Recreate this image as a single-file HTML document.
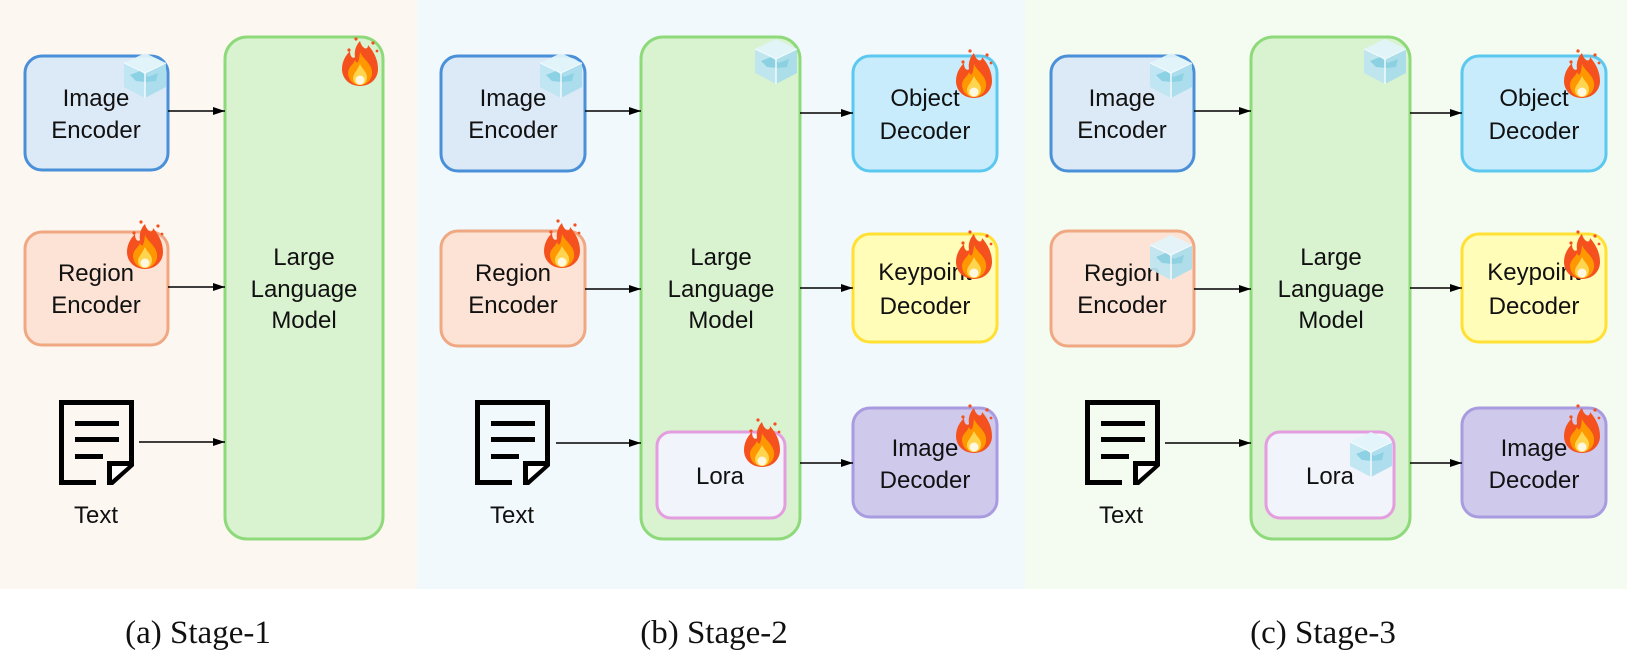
<!DOCTYPE html>
<html><head><meta charset="utf-8"><style>
html,body{margin:0;padding:0;background:#fff;width:1627px;height:665px;overflow:hidden}
svg{display:block}
.t{font-family:"Liberation Sans",sans-serif;font-size:24px;fill:#111;text-anchor:middle}
.c{font-family:"Liberation Serif",serif;font-size:33px;fill:#111;text-anchor:middle}
</style></head><body>
<svg width="1627" height="665" viewBox="0 0 1627 665" xmlns="http://www.w3.org/2000/svg">
<defs>
<marker id="ar" markerWidth="12" markerHeight="8" refX="12" refY="4" orient="auto" markerUnits="userSpaceOnUse">
<path d="M0 0 L12 4 L0 8 Z" fill="#000"/></marker>
<g id="fire">
<circle cx="9" cy="13" r="1.6" fill="#f4511e"/><circle cx="33" cy="6" r="1.6" fill="#f4511e"/><circle cx="16" cy="2" r="1.6" fill="#f4511e"/><circle cx="37" cy="14" r="1.4" fill="#f4511e"/>
<path d="M20 4 C22 12 28 14 28 8 C35 16 38 24 38 32 C38 42 30 49 20 49 C10 49 2 42 2 32 C2 24 6 18 10 14 C10 20 13 22 15 20 C14 14 16 8 20 4Z" fill="#f4511e"/>
<path d="M20 15 C23 22 31 26 32 34 C33 42 27 48 20 48 C13 48 8 43 8 35 C9 29 14 27 15 23 C17 28 19 26 20 15Z" fill="#ff9800"/>
<path d="M20 27 C22 32 27 35 27 40 C27 45 24 48 20 48 C16 48 13 45 13 41 C13 37 17 34 20 27Z" fill="#ffd54f"/>
<circle cx="20" cy="43" r="4.5" fill="#fff8e1"/>
</g>
<g id="ice" opacity="0.92">
<polygon points="23,2 44,12 23,22 2,12" fill="#e2f5fb"/>
<polygon points="2,12 23,22 23,47 2,36" fill="#bde6f2"/>
<polygon points="23,22 44,12 44,36 23,47" fill="#a9ddec"/>
<path d="M8 24 L18 20 L26 26 L36 22 L34 30 L24 31 L14 30 Z" fill="#86cfe3"/>
<line x1="23" y1="22" x2="23" y2="47" stroke="#f4fcff" stroke-width="1.5"/>
<line x1="23" y1="22" x2="2" y2="12" stroke="#f4fcff" stroke-width="1"/>
<line x1="23" y1="22" x2="44" y2="12" stroke="#f4fcff" stroke-width="1"/>
</g>
<g id="doc">
<path d="M37 82.5 H2.5 V2.5 H72.5 V64" fill="none" stroke="#000" stroke-width="5"/>
<polygon points="48,61 75,61 75,66 54,85 48,85" fill="#000"/>
<polygon points="53,66 69,66 53,80" fill="#fff"/>
<rect x="16" y="21" width="44" height="5" fill="#000"/>
<rect x="16" y="37" width="44" height="5" fill="#000"/>
<rect x="16" y="54" width="28" height="5" fill="#000"/>
</g>
</defs>

<rect x="0" y="0" width="417" height="589" fill="#fdf7f2"/>
<rect x="417" y="0" width="608" height="589" fill="#f1f9fd"/>
<rect x="1025" y="0" width="602" height="589" fill="#f4fbf1"/>

<!-- Stage 1 -->
<rect x="25" y="56" width="143" height="114" rx="17" fill="#dce9f7" stroke="#4a90d9" stroke-width="3"/>
<text class="t" x="96" y="106">Image</text><text class="t" x="96" y="138">Encoder</text>
<rect x="25" y="232" width="143" height="113" rx="17" fill="#fde3d6" stroke="#f0a882" stroke-width="3"/>
<text class="t" x="96" y="281">Region</text><text class="t" x="96" y="313">Encoder</text>
<rect x="225" y="37" width="158" height="502" rx="22" fill="#d9f2d0" stroke="#8ed97a" stroke-width="3"/>
<text class="t" x="304" y="265">Large</text><text class="t" x="304" y="297">Language</text><text class="t" x="304" y="328">Model</text>
<use href="#doc" x="59" y="400"/>
<text class="t" x="96" y="523">Text</text>
<line x1="168" y1="111" x2="225" y2="111" stroke="#000" stroke-width="1.6" marker-end="url(#ar)"/>
<line x1="168" y1="287" x2="225" y2="287" stroke="#000" stroke-width="1.6" marker-end="url(#ar)"/>
<line x1="139" y1="442" x2="225" y2="442" stroke="#000" stroke-width="1.6" marker-end="url(#ar)"/>
<use href="#ice" x="122" y="51"/>
<use href="#fire" x="125" y="220"/>
<use href="#fire" x="340" y="37"/>
<text class="c" x="198" y="643">(a) Stage-1</text>

<!-- Stage 2 -->
<rect x="441" y="56" width="144" height="115" rx="17" fill="#dce9f7" stroke="#4a90d9" stroke-width="3"/>
<text class="t" x="513" y="106">Image</text><text class="t" x="513" y="138">Encoder</text>
<rect x="441" y="231" width="144" height="115" rx="17" fill="#fde3d6" stroke="#f0a882" stroke-width="3"/>
<text class="t" x="513" y="281">Region</text><text class="t" x="513" y="313">Encoder</text>
<rect x="641" y="37" width="159" height="502" rx="22" fill="#d9f2d0" stroke="#8ed97a" stroke-width="3"/>
<text class="t" x="721" y="265">Large</text><text class="t" x="721" y="297">Language</text><text class="t" x="721" y="328">Model</text>
<rect x="657" y="432" width="128" height="86" rx="14" fill="#f1f4fb" stroke="#e49ee0" stroke-width="3"/>
<text class="t" x="720" y="484">Lora</text>
<rect x="853" y="56" width="144" height="115" rx="17" fill="#c8ecfb" stroke="#5bc8f0" stroke-width="3"/>
<text class="t" x="925" y="106">Object</text><text class="t" x="925" y="139">Decoder</text>
<rect x="853" y="234" width="144" height="108" rx="17" fill="#fffdb8" stroke="#ffe033" stroke-width="3"/>
<text class="t" x="925" y="280">Keypoint</text><text class="t" x="925" y="314">Decoder</text>
<rect x="853" y="408" width="144" height="109" rx="17" fill="#cfc9ec" stroke="#a99be0" stroke-width="3"/>
<text class="t" x="925" y="456">Image</text><text class="t" x="925" y="488">Decoder</text>
<use href="#doc" x="475" y="400"/>
<text class="t" x="512" y="523">Text</text>
<line x1="585" y1="111" x2="641" y2="111" stroke="#000" stroke-width="1.6" marker-end="url(#ar)"/>
<line x1="585" y1="289" x2="641" y2="289" stroke="#000" stroke-width="1.6" marker-end="url(#ar)"/>
<line x1="556" y1="443" x2="641" y2="443" stroke="#000" stroke-width="1.6" marker-end="url(#ar)"/>
<line x1="800" y1="113" x2="853" y2="113" stroke="#000" stroke-width="1.6" marker-end="url(#ar)"/>
<line x1="800" y1="288" x2="853" y2="288" stroke="#000" stroke-width="1.6" marker-end="url(#ar)"/>
<line x1="800" y1="463" x2="853" y2="463" stroke="#000" stroke-width="1.6" marker-end="url(#ar)"/>
<use href="#ice" x="538" y="51"/>
<use href="#fire" x="542" y="219"/>
<use href="#ice" x="753" y="37"/>
<use href="#fire" x="742" y="418"/>
<use href="#fire" x="954" y="49"/>
<use href="#fire" x="954" y="230"/>
<use href="#fire" x="954" y="404"/>
<text class="c" x="714" y="643">(b) Stage-2</text>

<!-- Stage 3 -->
<rect x="1051" y="56" width="143" height="115" rx="17" fill="#dce9f7" stroke="#4a90d9" stroke-width="3"/>
<text class="t" x="1122" y="106">Image</text><text class="t" x="1122" y="138">Encoder</text>
<rect x="1051" y="231" width="143" height="115" rx="17" fill="#fde3d6" stroke="#f0a882" stroke-width="3"/>
<text class="t" x="1122" y="281">Region</text><text class="t" x="1122" y="313">Encoder</text>
<rect x="1251" y="37" width="159" height="502" rx="22" fill="#d9f2d0" stroke="#8ed97a" stroke-width="3"/>
<text class="t" x="1331" y="265">Large</text><text class="t" x="1331" y="297">Language</text><text class="t" x="1331" y="328">Model</text>
<rect x="1266" y="432" width="128" height="86" rx="14" fill="#f1f4fb" stroke="#e49ee0" stroke-width="3"/>
<text class="t" x="1330" y="484">Lora</text>
<rect x="1462" y="56" width="144" height="115" rx="17" fill="#c8ecfb" stroke="#5bc8f0" stroke-width="3"/>
<text class="t" x="1534" y="106">Object</text><text class="t" x="1534" y="139">Decoder</text>
<rect x="1462" y="234" width="144" height="108" rx="17" fill="#fffdb8" stroke="#ffe033" stroke-width="3"/>
<text class="t" x="1534" y="280">Keypoint</text><text class="t" x="1534" y="314">Decoder</text>
<rect x="1462" y="408" width="144" height="109" rx="17" fill="#cfc9ec" stroke="#a99be0" stroke-width="3"/>
<text class="t" x="1534" y="456">Image</text><text class="t" x="1534" y="488">Decoder</text>
<use href="#doc" x="1085" y="400"/>
<text class="t" x="1121" y="523">Text</text>
<line x1="1194" y1="111" x2="1251" y2="111" stroke="#000" stroke-width="1.6" marker-end="url(#ar)"/>
<line x1="1194" y1="289" x2="1251" y2="289" stroke="#000" stroke-width="1.6" marker-end="url(#ar)"/>
<line x1="1165" y1="443" x2="1251" y2="443" stroke="#000" stroke-width="1.6" marker-end="url(#ar)"/>
<line x1="1410" y1="113" x2="1462" y2="113" stroke="#000" stroke-width="1.6" marker-end="url(#ar)"/>
<line x1="1410" y1="288" x2="1462" y2="288" stroke="#000" stroke-width="1.6" marker-end="url(#ar)"/>
<line x1="1410" y1="463" x2="1462" y2="463" stroke="#000" stroke-width="1.6" marker-end="url(#ar)"/>
<use href="#ice" x="1148" y="51"/>
<use href="#ice" x="1148" y="233"/>
<use href="#ice" x="1362" y="37"/>
<use href="#ice" x="1348" y="430"/>
<use href="#fire" x="1562" y="49"/>
<use href="#fire" x="1562" y="230"/>
<use href="#fire" x="1562" y="404"/>
<text class="c" x="1323" y="643">(c) Stage-3</text>
</svg>
</body></html>
